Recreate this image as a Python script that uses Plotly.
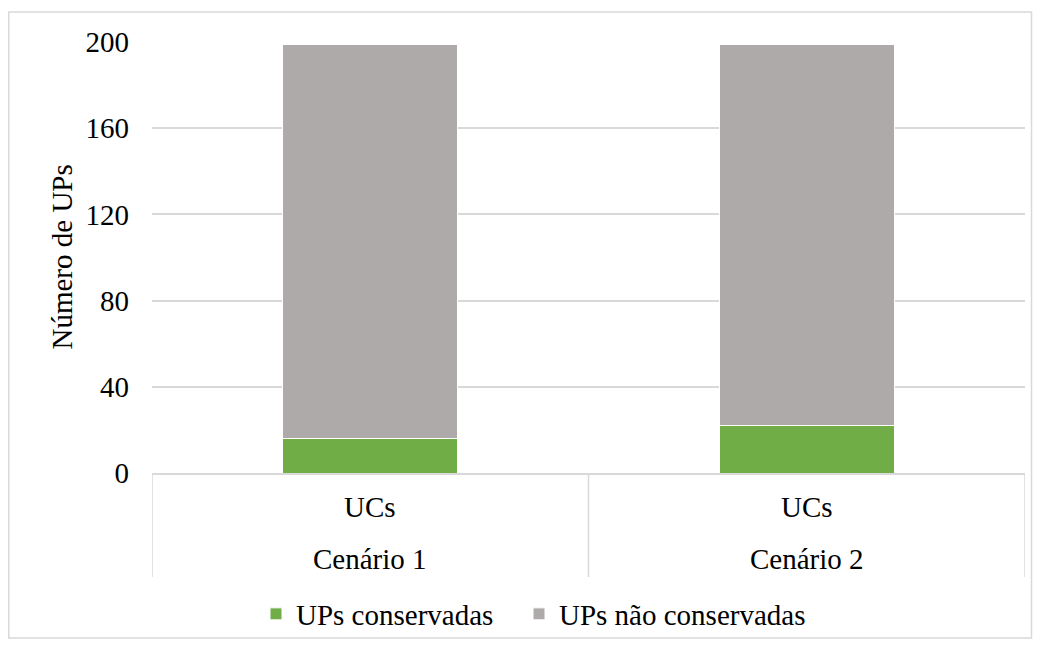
"""Gráfico de barras empilhadas — UPs conservadas por cenário."""

import plotly.graph_objects as go

cenarios = ["Cenário 1", "Cenário 2"]
subcategorias = ["UCs", "UCs"]
ups_conservadas = [16, 22]
ups_nao_conservadas = [183, 177]
y_ticks = [0, 40, 80, 120, 160, 200]

FONT = "Liberation Serif"
FS = 29
GRID = "#D9D9D9"

W, H = 1040, 640
L, R, T, B = 152, 15, 42, H - 473
pw, ph = W - L - R, H - T - B


def px_x(px):
    return (px - L) / pw


def px_y(py):
    return (H - B - py) / ph


fig = go.Figure()

fig.add_trace(go.Bar(
    x=cenarios, y=ups_conservadas, name="UPs conservadas", legend="legend",
    marker=dict(color="#70AD47", line=dict(color="white", width=1)),
))
fig.add_trace(go.Bar(
    x=cenarios, y=ups_nao_conservadas, name="UPs não conservadas", legend="legend2",
    marker=dict(color="#AEAAAA", line=dict(color="white", width=1)),
))

# rótulos de categoria em dois níveis (estilo Excel)
for cen, sub in zip(cenarios, subcategorias):
    fig.add_annotation(x=cen, y=px_y(507), xref="x", yref="paper", text=sub,
                       xanchor="center", yanchor="middle", showarrow=False,
                       font=dict(family=FONT, size=FS, color="black"))
    fig.add_annotation(x=cen, y=px_y(559), xref="x", yref="paper", text=cen,
                       xanchor="center", yanchor="middle", showarrow=False,
                       font=dict(family=FONT, size=FS, color="black"))

# título do eixo y
fig.add_annotation(x=px_x(61), y=0.5, xref="paper", yref="paper", text="Número de UPs",
                   textangle=-90, xanchor="center", yanchor="middle", showarrow=False,
                   font=dict(family=FONT, size=FS, color="black"))

# divisores verticais do eixo de categorias
for xv in [-0.5, 0.5, 1.5]:
    fig.add_shape(type="line", xref="x", yref="paper", x0=xv, x1=xv,
                  y0=0, y1=px_y(577), line=dict(color=GRID, width=1.5))

# borda do gráfico
fig.add_shape(type="rect", xref="paper", yref="paper",
              x0=px_x(8.8), x1=px_x(1031.5), y0=px_y(638), y1=px_y(12),
              line=dict(color=GRID, width=1.5), fillcolor="rgba(0,0,0,0)", layer="below")

leg = dict(orientation="h", xref="container", yref="container", xanchor="left",
           y=(H - 614) / H, yanchor="middle", font=dict(family=FONT, size=FS),
           bgcolor="rgba(0,0,0,0)", itemwidth=30)

fig.update_layout(
    width=W, height=H,
    margin=dict(l=L, r=R, t=T, b=B),
    barmode="stack", bargap=0.6,
    paper_bgcolor="white", plot_bgcolor="white",
    font=dict(family=FONT, size=FS, color="black"),
    showlegend=True,
    legend=dict(leg, x=256 / W),
    legend2=dict(leg, x=519 / W, visible=True),
    xaxis=dict(showticklabels=False, showgrid=False, ticks="",
               showline=True, linecolor=GRID, linewidth=1.5, range=[-0.5, 1.5]),
    yaxis=dict(range=[0, 200], tickvals=y_ticks, showgrid=True, gridcolor=GRID,
               gridwidth=1.5, zeroline=False, showline=False,
               ticklabelstandoff=22, tickfont=dict(family=FONT, size=FS)),
)

fig.write_html(
    "out.html",
    config={"displayModeBar": False},
    post_script="document.body.style.margin='0';"
                "document.documentElement.style.overflow='hidden';",
)
